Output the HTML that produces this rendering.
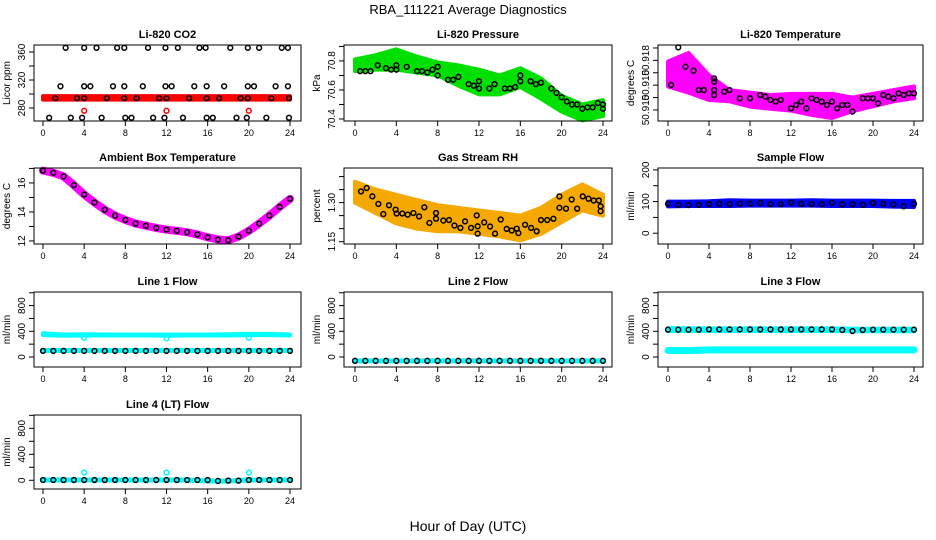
<!DOCTYPE html>
<html><head><meta charset="utf-8">
<style>
html,body{margin:0;padding:0;background:#fff;}
svg{display:block;font-family:"Liberation Sans",Arial,sans-serif;}
</style></head>
<body>
<svg id="chart" width="936" height="540" viewBox="0 0 936 540" xmlns="http://www.w3.org/2000/svg">
<rect width="936" height="540" fill="#fff"/>
<text x="468" y="14" text-anchor="middle" font-size="13">RBA_111221  Average Diagnostics</text>
<text x="468" y="531" text-anchor="middle" font-size="14">Hour of Day (UTC)</text>
</svg>
<script>
// ---------- data ----------
const hourTicks = [0,4,8,12,16,20,24];
const hourly = [0,1,2,3,4,5,6,7,8,9,10,11,12,13,14,15,16,17,18,19,20,21,22,23,24];
const bandHours = [0,2,4,6,8,10,12,14,16,18,20,22,24];

// CO2
const co2RedUpper = [297,297,297,297,297,297,297,297,297,297,297,297,297];
const co2RedLower = [292,292,292,292,292,292,292,292,292,292,292,292,292];
const co2RedOutHours = [4,12,20];
const co2RedOutVals = [276,276,276];
const co2Hours = [2.2,4.0,5.2,7.2,7.9,10.2,11.9,13.1,15.2,15.8,18.2,19.9,21.0,23.2,23.8,
 1.7,4.0,4.6,6.8,7.9,9.7,11.9,12.5,14.7,15.9,17.6,19.9,20.5,22.6,23.8,
 1.2,3.3,4.0,6.2,7.9,9.1,11.3,12.0,14.2,15.9,17.1,19.2,19.9,22.2,23.9,
 0.6,2.7,3.8,5.7,8.0,8.6,10.7,11.8,13.6,15.9,16.5,18.8,19.8,21.7,23.9];
const co2Vals = [366,366,366,366,366,366,366,366,366,366,366,366,366,366,366,
 311,311,311,311,311,311,311,311,311,311,311,311,311,311,311,
 294,294,294,294,294,294,294,294,294,294,294,294,294,294,294,
 266,266,266,266,266,266,266,266,266,266,266,266,266,266,266];

// Pressure
const pUpper = [70.81,70.84,70.88,70.83,70.79,70.77,70.74,70.70,70.75,70.68,70.56,70.50,70.53];
const pLower = [70.73,70.74,70.74,70.72,70.70,70.63,70.57,70.57,70.62,70.54,70.45,70.39,70.42];
const pHours = [0.5,1,1.5,2.2,3,3.5,4,4,5,6,6.5,7,7.5,8,8,9,9.5,10,11,11.5,12,12,13,13.5,14.5,15,15.5,16,16,17,17.5,18,19,19.5,20,20.5,21,21.5,22,22.5,23,23.5,24,24];
const pVals = [70.73,70.73,70.73,70.77,70.75,70.74,70.77,70.74,70.76,70.73,70.73,70.72,70.74,70.76,70.70,70.67,70.67,70.69,70.64,70.63,70.66,70.61,70.61,70.64,70.61,70.61,70.62,70.66,70.70,70.66,70.64,70.65,70.61,70.58,70.55,70.52,70.50,70.50,70.47,70.48,70.48,70.51,70.47,70.50];

// Li-820 temperature (tick units above 50.910)
const tUpper = [3.9,4.6,2.8,1.6,1.4,1.2,1.3,1.3,1.3,1.0,1.3,1.6,1.9];
const tLower = [1.9,1.4,0.8,0.7,0.27,0.1,-0.05,-0.4,-0.65,-0.1,0.3,0.7,0.95];
const tHours = [0.3,1,1.7,2.5,3,3.5,4.5,4.5,4.5,4.5,5.5,6,7,8,9,9.5,10,10.5,11,12,12.5,13,13.5,14,14.5,15,15.5,16,16.5,17,17.5,18,19,19.5,20,20.5,21,21.5,22,22.5,23,23.5,24];
const tVals = [2.02,5.05,3.49,3.17,1.61,1.61,2.55,2.28,1.61,1.21,1.48,1.61,0.94,0.94,1.21,1.07,0.81,0.67,0.81,0.13,0.40,0.67,0.13,0.94,0.81,0.67,0.40,0.67,0.13,0.40,0.40,-0.13,0.94,0.94,0.94,0.54,1.21,1.07,0.94,1.34,1.21,1.34,1.34];
const tTickLabels = ['50.910','','50.910','','50.918',''];

// Ambient box temperature
const ambVals = [16.85,16.7,16.45,15.85,15.2,14.65,14.15,13.75,13.45,13.2,13.05,12.9,12.78,12.7,12.6,12.45,12.25,12.1,12.05,12.3,12.7,13.2,13.75,14.35,14.9];

// Gas stream RH
const rhUpper = [1.38,1.35,1.33,1.31,1.29,1.28,1.27,1.26,1.25,1.28,1.33,1.37,1.33];
const rhLower = [1.30,1.26,1.22,1.20,1.19,1.19,1.18,1.17,1.155,1.18,1.225,1.27,1.25];
const rhHours = [0.58,1.13,1.68,2.26,2.74,3.29,3.93,4.03,4.58,5.1,5.65,6.2,6.71,7.2,7.84,7.84,8.55,9.1,9.62,10.2,10.65,11.23,11.78,11.87,11.87,12.5,13.07,13.55,14.1,14.68,15.17,15.65,15.81,16.46,17.04,17.58,18.0,18.6,19.2,19.78,19.78,20.42,20.97,21.5,22.04,22.6,23.1,23.6,23.77,23.77];
const rhVals = [1.343,1.356,1.324,1.295,1.256,1.290,1.273,1.258,1.258,1.254,1.260,1.247,1.282,1.222,1.260,1.238,1.231,1.233,1.212,1.203,1.228,1.203,1.251,1.209,1.181,1.224,1.208,1.181,1.235,1.199,1.193,1.200,1.183,1.215,1.203,1.190,1.233,1.233,1.238,1.324,1.280,1.277,1.312,1.277,1.324,1.315,1.308,1.308,1.267,1.286];

// Sample flow
const sfUpper = [100,100,101,104,103,103,103,104,103,103,103,102,102];
const sfLower = [85,86,86,86,87,87,87,87,86,86,86,84,83];
const sfVals = [93,90,89,90,92,94,92,93,94,96,92,92,97,93,92,92,96,91,92,90,95,93,91,85,93];

// Line flows
const l1CyanHi = [370,350,355,350,350,350,350,350,350,355,360,360,350];
const l1CyanLo = [340,330,335,335,335,335,330,335,335,335,340,340,335];
const l1CyanBase = [100,100,100,100,100,100,100,100,100,100,100,100,100];
const l1DipHours = [4,12,20];
const l1DipVals = [300,290,300];
const l1Black = [95,95,95,95,95,95,95,95,95,95,95,95,95,95,95,95,95,95,95,95,95,95,95,95,95];
const l2Cyan = [-60,-60,-60,-60,-60,-60,-60,-60,-60,-60,-60,-60,-60];
const l2Black = [-60,-60,-60,-60,-60,-60,-60,-60,-60,-60,-60,-60,-60,-60,-60,-60,-60,-60,-60,-60,-60,-60,-60,-60,-60];
const l3CyanHi = [450,445,445,445,445,445,445,445,445,440,440,440,440];
const l3CyanLo = [405,405,405,405,405,405,405,405,405,400,400,400,400];
const l3CyanBase = [100,100,110,110,110,110,110,110,110,110,110,110,110];
const l3Black = [425,425,425,425,430,430,430,430,430,430,430,430,430,430,430,430,430,420,405,420,425,425,425,425,425];
const l4Cyan = [5,5,5,5,5,5,5,5,-10,-10,5,5,5];
const l4OutHours = [4,12,20];
const l4OutVals = [120,120,120];
const l4Black = [5,5,5,5,5,5,5,5,5,5,5,5,5,5,5,5,5,-10,-5,-5,5,5,5,5,5];

// ---------- layout ----------
const cols = [{x0:34,x1:301,h0:43,h24:290},{x0:344,x1:612,h0:355,h24:603},{x0:658,x1:923,h0:668,h24:914}];
const rows = [[45,121],[168,244],[292,367],[415,489]];
const svg = document.getElementById('chart');
const NS = 'http://www.w3.org/2000/svg';
function mk(tag, attrs, parent){
  const e = document.createElementNS(NS, tag);
  for (const k in attrs) e.setAttribute(k, attrs[k]);
  (parent||svg).appendChild(e);
  return e;
}

function panel(c, r, name, title, ytitle, ymin, ymax, ticks, labels, draw){
  const col = cols[c], row = rows[r];
  const g = mk('g', {});
  
  
  const X = h => col.h0 + (col.h24 - col.h0) * h / 24;
  const Y = v => row[1] - (v - ymin) / (ymax - ymin) * (row[1] - row[0]);
  const t = mk('text', {x:(col.x0+col.x1)/2, y:row[0]-7, 'text-anchor':'middle', 'font-size':11, 'font-weight':'bold'}, g);
  t.textContent = title;
  
  
  const plot = mk('g', {}, g);
  
  
  draw(plot, X, Y);
  const box = mk('rect', {x:col.x0, y:row[0], width:col.x1-col.x0, height:row[1]-row[0], fill:'none', stroke:'#000', 'stroke-width':1}, g);
  
  
  const xa = mk('g', {}, g);
  
  
  hourTicks.forEach(h => {
    mk('line', {x1:X(h), x2:X(h), y1:row[1], y2:row[1]+5, stroke:'#000'}, xa);
    const tl = mk('text', {x:X(h), y:row[1]+15, 'text-anchor':'middle', 'font-size':9}, xa);
    tl.textContent = h;
  });
  const ya = mk('g', {}, g);
  
  
  ticks.forEach((v, i) => {
    mk('line', {x1:col.x0-5, x2:col.x0, y1:Y(v), y2:Y(v), stroke:'#000'}, ya);
    if (labels[i]) {
      const tl = mk('text', {x:0, y:0, 'text-anchor':'middle', 'font-size':10, transform:`translate(${col.x0-9},${Y(v)}) rotate(-90)`}, ya);
      tl.textContent = labels[i];
    }
  });
  const yt = mk('text', {x:0, y:0, 'text-anchor':'middle', 'font-size':10, transform:`translate(${col.x0-24},${(row[0]+row[1])/2}) rotate(-90)`}, g);
  yt.textContent = ytitle;
  
  
}

function band(p, X, Y, hours, hi, lo, color, name){
  let d = '';
  hours.forEach((h,i) => d += (i? 'L':'M') + X(h) + ' ' + Y(hi[i]));
  for (let i = hours.length-1; i >= 0; i--) d += 'L' + X(hours[i]) + ' ' + Y(lo[i]);
  const e = mk('path', {d:d+'Z', fill:color, stroke:color, 'stroke-width':4, 'stroke-linejoin':'round'}, p);
  
  
}
function line(p, X, Y, hours, vals, color, w, name){
  const e = mk('polyline', {points:hours.map((h,i)=>X(h)+','+Y(vals[i])).join(' '), fill:'none', stroke:color, 'stroke-width':w, 'stroke-linecap':'round', 'stroke-linejoin':'round'}, p);
  
  
}
function pts(p, X, Y, hours, vals, color, name){
  hours.forEach((h,i) => {
    const e = mk('circle', {cx:X(h), cy:Y(vals[i]), r:2.4, fill:'none', stroke:color, 'stroke-width':1.5}, p);
    
    
  });
}

panel(0,0,'co2','Li-820 CO2','Licor ppm',261.4,370,[280,300,320,340,360],['280','','320','','360'],(p,X,Y)=>{
  band(p,X,Y,bandHours,co2RedUpper,co2RedLower,'#ff0000','co2-red-series');
  pts(p,X,Y,co2RedOutHours,co2RedOutVals,'#ff0000','co2-red-outlier');
  pts(p,X,Y,co2Hours,co2Vals,'#000','co2-point');
});
panel(1,0,'pressure','Li-820 Pressure','kPa',70.386,70.91,[70.4,70.5,70.6,70.7,70.8,70.9],['70.4','','70.6','','70.8',''],(p,X,Y)=>{
  band(p,X,Y,bandHours,pUpper,pLower,'#00e000','pressure-green-series');
  pts(p,X,Y,pHours,pVals,'#000','pressure-point');
});
panel(2,0,'li820-temp','Li-820 Temperature','degrees C',-0.89,5.24,[0,1,2,3,4,5],tTickLabels,(p,X,Y)=>{
  band(p,X,Y,bandHours,tUpper,tLower,'#ff00ff','li820-temp-magenta-series');
  pts(p,X,Y,tHours,tVals,'#000','li820-temp-point');
});
panel(0,1,'ambient-temp','Ambient Box Temperature','degrees C',11.79,17.03,[12,13,14,15,16,17],['12','','14','','16',''],(p,X,Y)=>{
  line(p,X,Y,hourly,ambVals,'#ff00ff',8,'ambient-temp-magenta-series');
  pts(p,X,Y,hourly,ambVals,'#000','ambient-temp-point');
});
panel(1,1,'rh','Gas Stream RH','percent',1.141,1.433,[1.15,1.2,1.25,1.3,1.35,1.4],['1.15','','','1.30','',''],(p,X,Y)=>{
  band(p,X,Y,bandHours,rhUpper,rhLower,'#f5a800','rh-orange-series');
  pts(p,X,Y,rhHours,rhVals,'#000','rh-point');
});
panel(2,1,'sample-flow','Sample Flow','ml/min',-34,206,[0,50,100,150,200],['0','','100','','200'],(p,X,Y)=>{
  band(p,X,Y,bandHours,sfUpper,sfLower,'#0000ff','sample-flow-blue-series');
  pts(p,X,Y,hourly,sfVals,'#000','sample-flow-point');
});
const flowTicks = [0,200,400,600,800,1000], flowLabels = ['0','','400','','800',''];
panel(0,2,'line1-flow','Line 1 Flow','ml/min',-156,1012,flowTicks,flowLabels,(p,X,Y)=>{
  band(p,X,Y,bandHours,l1CyanHi,l1CyanLo,'#00ffff','line1-cyan-upper-series');
  line(p,X,Y,bandHours,l1CyanBase,'#00ffff',5,'line1-cyan-lower-series');
  pts(p,X,Y,l1DipHours,l1DipVals,'#00ffff','line1-cyan-dip');
  pts(p,X,Y,hourly,l1Black,'#000','line1-point');
});
panel(1,2,'line2-flow','Line 2 Flow','ml/min',-156,1012,flowTicks,flowLabels,(p,X,Y)=>{
  line(p,X,Y,bandHours,l2Cyan,'#00ffff',5,'line2-cyan-series');
  pts(p,X,Y,hourly,l2Black,'#000','line2-point');
});
panel(2,2,'line3-flow','Line 3 Flow','ml/min',-156,1012,flowTicks,flowLabels,(p,X,Y)=>{
  band(p,X,Y,bandHours,l3CyanHi,l3CyanLo,'#00ffff','line3-cyan-upper-series');
  line(p,X,Y,bandHours,l3CyanBase,'#00ffff',7,'line3-cyan-lower-series');
  pts(p,X,Y,hourly,l3Black,'#000','line3-point');
});
panel(0,3,'line4-flow','Line 4 (LT) Flow','ml/min',-134,1005,flowTicks,flowLabels,(p,X,Y)=>{
  line(p,X,Y,bandHours,l4Cyan,'#00ffff',5,'line4-cyan-series');
  pts(p,X,Y,l4OutHours,l4OutVals,'#00ffff','line4-cyan-outlier');
  pts(p,X,Y,hourly,l4Black,'#000','line4-point');
});
</script>
</body></html>
